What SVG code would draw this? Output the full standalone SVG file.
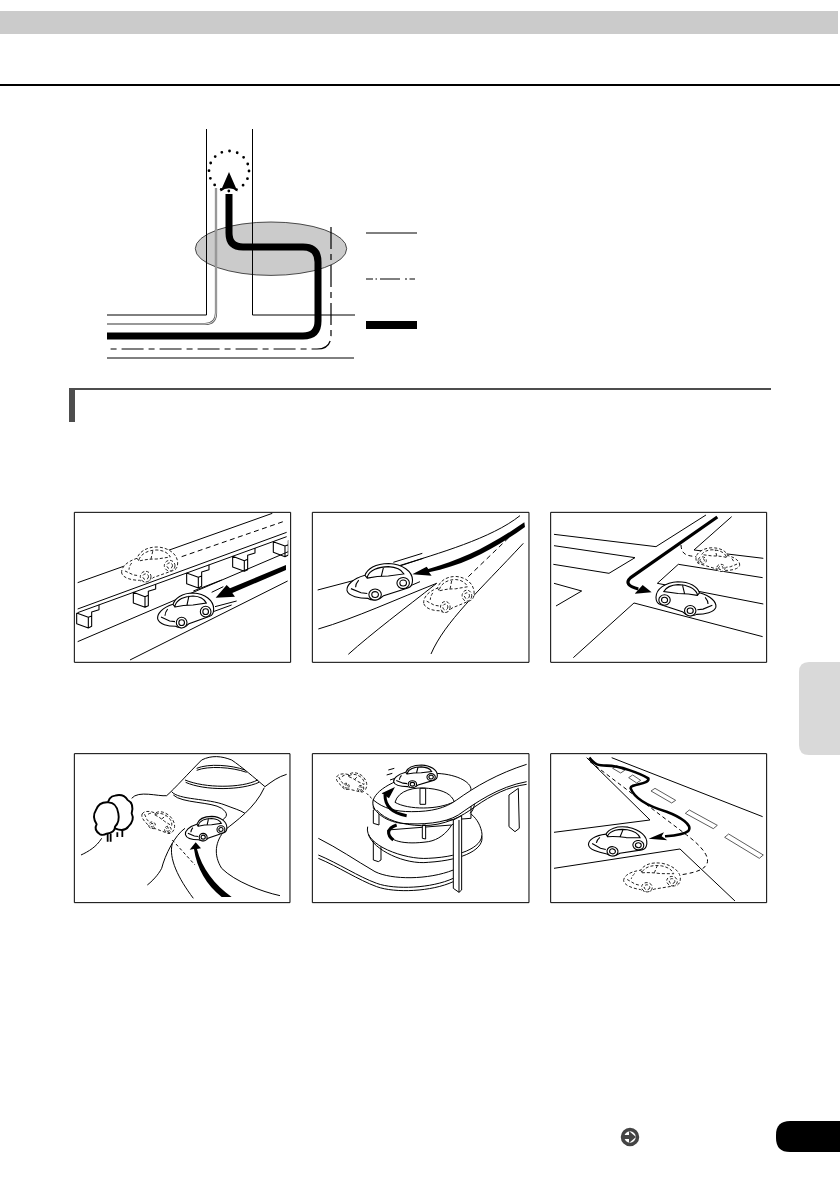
<svg xmlns="http://www.w3.org/2000/svg" xmlns:xlink="http://www.w3.org/1999/xlink" width="840" height="1190" viewBox="0 0 840 1190">
<style>
*{vector-effect:non-scaling-stroke}
.t{fill:none;stroke:#000;stroke-width:1;stroke-linecap:butt;stroke-linejoin:round}
.w{fill:#fff;stroke:#000;stroke-width:1;stroke-linejoin:round}
.d{fill:none;stroke:#000;stroke-width:1;stroke-dasharray:5 3.5}
.k{fill:#000;stroke:none}
.a{fill:none;stroke:#000;stroke-linecap:butt;stroke-linejoin:round}
.f{fill:#fff;stroke:#000;stroke-width:1.1;stroke-linejoin:round}
.car{fill:#fff;stroke:#000;stroke-width:1.1}
.ghost{fill:#fff;stroke:#222;stroke-width:1;stroke-dasharray:3 2}
.tr{fill:#fff;stroke:#000;stroke-width:1.9;stroke-linejoin:round}
</style>
<defs>
<g id="carShape">
<path d="M-82 24C-84 8-68 -10-36 -20C-30 -38-10 -54 25 -54C60 -52 86 -32 86 -6C86 8 80 14 74 16L12 38C2 50-16 54-28 46C-50 46-78 40-82 24Z"/>
<path fill="none" d="M-30 -16C-24 -34-2 -45 24 -45C44 -44 58 -36 64 -24L24 -18C2 -18-14 -16-30 -12ZM6 -18L12 -45M-72 18L-46 30L-30 32M-36 -20L-30 -12M-52 -6C-58 2-60 8-60 14"/>
<circle cx="-10" cy="35" r="16"/><circle cx="-10" cy="35" r="8.500"/>
<circle cx="62" cy="2" r="16"/><circle cx="62" cy="2" r="8.500"/>
</g>
<path id="pillar" class="f" d="M0 0V32L35 45L45 40V-3L67 -10V-25M0 0L35 13V45M35 13L45 9"/>
<clipPath id="p1clip"><rect x="30" y="24" width="640" height="446"/></clipPath>
</defs>
<rect width="840" height="1190" fill="#fff"/>
<g id="header">
<rect x="0" y="11" width="838" height="23" fill="#cbcbcb"/>
<rect x="0" y="84" width="840" height="2" fill="#000"/>
</g>
<g id="route-diagram">
<ellipse cx="271" cy="248.700" rx="75.700" ry="26.700" fill="#cbcbcb" stroke="#222" stroke-width=".8"/>
<path class="t" d="M206.500 129V315H107M252.500 129V315H355M107 358H354"/>
<path d="M216 188V313Q216 324 205 324H107" fill="none" stroke="#555" stroke-width="2.200"/>
<path d="M216 188V313Q216 324 205 324H107" fill="none" stroke="#fff" stroke-width=".8"/>
<path d="M331 227V335Q331 349 317 349H110" fill="none" stroke="#000" stroke-width="1.200" stroke-dasharray="22 5 6 5"/>
<path d="M229 194V233Q229 247 243 247H303Q318 247 318 262V321Q318 336 303 336H107" fill="none" stroke="#000" stroke-width="7"/>
<circle cx="229" cy="171" r="20" fill="none" stroke="#000" stroke-width="2.800" stroke-dasharray="0 7.850" stroke-linecap="round"/>
<path class="k" d="M229 172L237.500 191.500Q229 185 220.500 191.500Z"/>
<path class="t" d="M366 233H417"/>
<path d="M366 279H415" fill="none" stroke="#000" stroke-width="1" stroke-dasharray="7 2.500 1.500 3 20 5 2 2.500 7"/>
<rect x="366" y="321" width="51" height="8" fill="#000"/>
</g>
<g id="section-bar" fill="#4d4d4d">
<rect x="69" y="388" width="702" height="2"/>
<rect x="69" y="388" width="6" height="34"/>
</g>
<g id="panel-elevated-road" transform="translate(65 505) scale(.3333)">
<rect class="w" x="28" y="22" width="649" height="450"/>
<g clip-path="url(#p1clip)">
<use xlink:href="#pillar" href="#pillar" x="205" y="262"/>
<use xlink:href="#pillar" href="#pillar" x="365" y="204"/>
<use xlink:href="#pillar" href="#pillar" x="503" y="154"/>
<use xlink:href="#pillar" href="#pillar" x="625" y="110"/>
<use xlink:href="#pillar" href="#pillar" x="35" y="324"/>
<path class="t" d="M38 233L622 25M38 312L665 82M38 323L665 95M38 410L670 140M195 465L668 228M385 258L470 225M440 262L475 245M450 305L515 288M445 320L500 300"/>
</g>
<path class="d" d="M350 155L660 48"/>
<use class="ghost" xlink:href="#carShape" href="#carShape" transform="translate(252 180)"/>
<use class="car" xlink:href="#carShape" href="#carShape" transform="translate(360 318)"/>
<path class="k" d="M663 180L495 250L485 240L452 278L510 275L502 264L663 195Z"/>
</g>
<g id="panel-fork" transform="translate(305 505) scale(.3333)">
<rect class="w" x="22" y="22" width="650" height="450"/>
<path class="t" d="M38 255L190 215M280 183C400 145 560 100 645 32M40 372C150 340 280 280 395 235M130 448C200 385 300 310 395 235M378 447C420 350 520 260 655 115M265 172L352 145M278 185L355 160M310 245L345 230"/>
<path class="d" d="M490 215L630 80"/>
<use class="ghost" xlink:href="#carShape" href="#carShape" transform="translate(430 270) scale(.9 1.03)"/>
<use class="car" xlink:href="#carShape" href="#carShape" transform="translate(222 232) scale(1.17 1.05)"/>
<path class="k" d="M658 52C560 120 470 165 370 192L365 185L322 208L380 212L372 202C480 180 570 130 660 66Z"/>
</g>
<g id="panel-crossing" transform="translate(540 505) scale(.3333)">
<rect class="w" x="32" y="22" width="648" height="450"/>
<path class="t" d="M42 88L348 125L498 30M42 122L285 158L207 205L40 178M42 235L125 258L48 303M100 458L282 294L668 395M575 35L462 135L670 160M668 218L415 178L352 235L670 297"/>
<path d="M423 120C425 150 440 152 470 155" fill="none" stroke="#000" stroke-width="1" stroke-dasharray="4 3"/>
<use class="ghost" xlink:href="#carShape" href="#carShape" transform="translate(535 165) scale(-.78 .68)"/>
<use class="car" xlink:href="#carShape" href="#carShape" transform="translate(440 283) scale(-1.07 .98)"/>
<path class="a" stroke-width="3.200" d="M532 36L272 218Q248 240 295 252"/>
<path class="k" d="M335 262L308 240L284 266Z"/>
</g>
<g id="panel-mountain" transform="translate(65 745) scale(.3333)">
<rect class="w" x="28" y="26" width="647" height="447"/>
<path class="t" d="M200 160C220 135 280 155 305 152C330 130 370 85 410 45C440 30 470 33 500 45C530 65 570 100 600 125C620 110 640 95 665 88M395 70C430 55 500 60 540 75M395 76C430 62 500 66 545 82M360 105C420 130 530 130 578 105M362 112C420 138 530 136 582 112M320 140C340 165 430 160 480 180C505 190 525 195 540 205M325 150C350 175 440 170 470 190C490 205 490 215 465 230M598 128C570 190 510 230 480 255C450 290 445 330 470 370C510 410 590 440 645 452M360 250C330 270 300 330 290 370C280 390 260 410 247 420M322 295C310 340 340 400 385 460M48 330C70 320 95 305 110 280"/>
<path class="d" d="M322 285L390 360" style="stroke-dasharray:3 2.500"/>
<path class="tr" d="M150 250Q178 262 190 245Q210 225 200 205Q208 175 188 165Q175 145 150 152Q130 155 128 180L150 250Z"/>
<path class="tr" d="M105 268Q85 255 95 238Q80 215 93 195Q102 170 130 172Q155 172 160 205Q165 230 150 245Q150 262 125 266Q115 272 105 268Z"/>
<path class="a" stroke-width="1.800" d="M128 266V290M137 266V290M157 262V276M172 256V276"/>
<use class="ghost" xlink:href="#carShape" href="#carShape" transform="translate(280 228) rotate(40) scale(.62 .62)"/>
<use class="car" xlink:href="#carShape" href="#carShape" transform="translate(422 252) scale(.74 .7)"/>
<path class="k" d="M500 456L470 456C425 420 395 370 387 312L374 314L392 292L408 310L396 312C410 370 450 420 500 456Z"/>
</g>
<g id="panel-spiral" transform="translate(305 745) scale(.3333)">
<rect class="w" x="22" y="26" width="650" height="447"/>
<path class="t" d="M40 280C100 310 150 345 210 380C260 405 370 405 445 375M40 330C100 355 160 395 215 415C270 435 380 430 445 400M40 340C100 365 160 405 215 425C270 445 380 440 445 410"/>
<path class="w" d="M205 280V345L220 350L228 345V280Z"/>
<path class="w" d="M188 245C175 300 300 345 370 340C480 335 540 300 530 260C525 235 510 215 495 205L440 240L248 255C245 290 300 300 370 290C400 285 425 265 440 240"/>
<path class="t" d="M190 268C205 315 300 360 370 352C480 345 540 310 530 272"/>
<path class="w" d="M205 195V235L222 240V190ZM352 240V280L362 282V240Z"/>
<path class="w" d="M205 165C215 130 290 90 385 85C450 85 500 110 498 135L498 220L300 235L205 190Z"/>
<path class="w" d="M270 172C280 135 330 125 370 130C420 135 440 150 448 170C400 195 310 195 270 172Z"/>
<path class="w" d="M345 130V178H362V130Z"/>
<path class="t" d="M498 135C510 150 515 190 495 205"/>
<path class="w" d="M612 150V245L630 260L643 250L640 130Z"/>
<path d="M665 58C580 85 510 125 455 165C420 190 380 200 320 200C270 200 235 190 205 165C195 195 240 230 290 235C350 240 420 235 460 210C510 175 580 125 665 110Z" fill="#fff"/>
<path class="t" d="M665 58C580 85 510 125 455 165C420 190 380 200 320 200C270 200 235 190 205 165C195 195 240 230 290 235C350 240 420 235 460 210C510 175 580 125 665 110"/>
<path class="t" d="M215 195C240 225 290 240 350 242C420 242 470 215 510 185C560 150 610 125 665 118"/>
<path class="w" d="M445 225V430L462 442L470 435V212Z"/>
<path class="t" d="M462 225V442"/>
<path class="a" stroke-width="3" d="M305 212C265 205 240 185 240 150"/>
<path class="k" d="M270 126L230 145L252 160Z"/>
<path class="a" stroke-width="3" d="M275 240C245 250 245 270 265 285"/>
<path class="t" d="M250 75L268 70M245 90L262 85M255 105L270 100"/>
<path d="M185 145L205 165" class="d" style="stroke-dasharray:2.500 2"/>
<use class="ghost" xlink:href="#carShape" href="#carShape" transform="translate(140 110) rotate(35) scale(.55 .6)"/>
<use class="car" xlink:href="#carShape" href="#carShape" transform="translate(330 95) scale(.78 .65)"/>
</g>
<g id="panel-lane" transform="translate(540 745) scale(.3333)">
<rect class="w" x="32" y="26" width="648" height="447"/>
<path class="t" d="M215 38L668 215M140 38L330 225L42 262M42 370L420 312L585 468"/>
<path class="f" style="stroke-width:.8;stroke:#333" d="M333 138L345 130L407 166L395 174ZM436 205L448 195L532 241L520 251ZM554 277L566 267L670 330L658 340ZM218 70L230 62L254 76L242 84ZM266 98L278 90L302 106L290 114Z"/>
<path class="d" style="stroke-dasharray:4 3" d="M150 50L440 270C480 300 520 340 495 365C480 380 450 385 420 390"/>
<use class="ghost" xlink:href="#carShape" href="#carShape" transform="translate(335 398) rotate(8) scale(1 .87)"/>
<use class="car" xlink:href="#carShape" href="#carShape" transform="translate(232 290) rotate(8) scale(1.03 .88)"/>
<path class="a" stroke-width="2.600" d="M148 38C165 60 175 62 200 62C240 62 300 85 325 100C330 120 270 115 272 130C285 165 330 185 380 200C420 215 460 240 445 258C430 270 400 272 375 274"/>
<path class="k" d="M326 281L372 262L365 274L382 286Z"/>
</g>
<g id="side-tab"><path d="M840 662H809Q799 662 799 672V745Q799 755 809 755H840Z" fill="#d9d9d9"/></g>
<g id="next-page">
<circle cx="630" cy="1137" r="7.500" fill="#fff" stroke="#444" stroke-width="3.500"/>
<path d="M624 1135H629V1131L636 1137L629 1143V1139H624Z" fill="#444"/>
</g>
<g id="page-tab"><path d="M840 1121H790Q776 1121 776 1135V1138Q776 1152 790 1152H840Z" fill="#000"/></g>
</svg>
